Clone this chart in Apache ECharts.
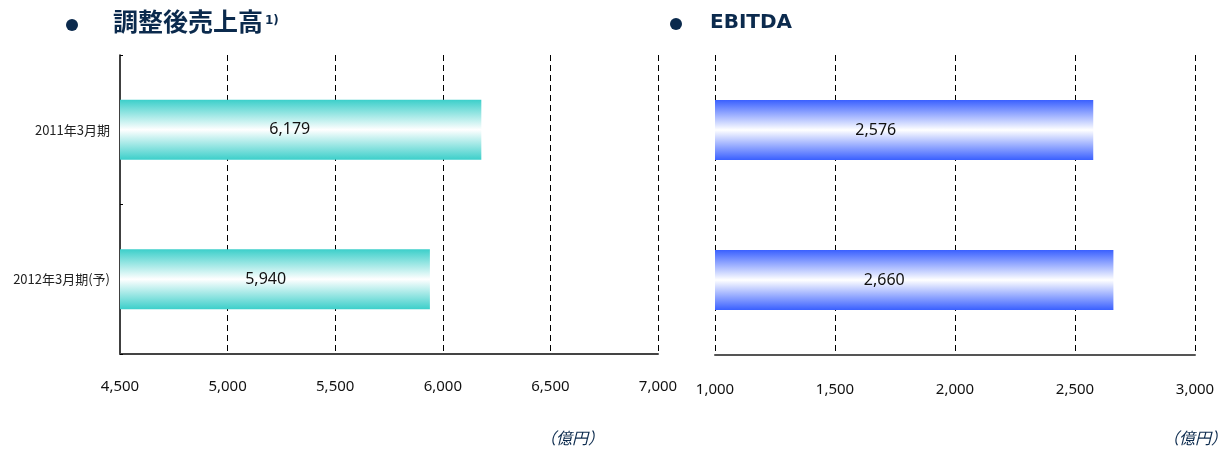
<!DOCTYPE html>
<html>
<head>
<meta charset="utf-8">
<script src="https://cdn.jsdelivr.net/npm/echarts@6/dist/echarts.min.js"></script>
<style>
  html, body { margin: 0; padding: 0; background: #fff; }
  #chart { width: 1228px; height: 453px; }
</style>
</head>
<body>
<div id="chart"></div>
<script>
// Fiscal periods shown on both panels (top to bottom)
const periods = ['2011年3月期', '2012年3月期(予)'];
// 調整後売上高 (億円)
const salesValues = [6179, 5940];
// EBITDA (億円)
const ebitdaValues = [2576, 2660];
// Value axis ranges and steps
const salesAxis = { min: 4500, max: 7000, interval: 500 };
const ebitdaAxis = { min: 1000, max: 3000, interval: 500 };

const NAVY = '#0b2a4d';
const numFont = "'Noto Sans', sans-serif";
const jpFont = "'Noto Sans CJK JP', sans-serif";

function barGradient(edge) {
  return new echarts.graphic.LinearGradient(0, 0, 0, 1, [
    { offset: 0, color: edge },
    { offset: 0.5, color: '#ffffff' },
    { offset: 1, color: edge }
  ]);
}

const fmt = v => v.toLocaleString('en-US');

function barLabel(xPos) {
  return {
    show: true, position: [xPos, '50%'], align: 'center', verticalAlign: 'middle',
    formatter: p => fmt(p.value), fontSize: 16, color: '#111', fontFamily: numFont
  };
}

const chart = echarts.init(document.getElementById('chart'), null, { renderer: 'canvas' });

chart.setOption({
  animation: false,
  grid: [
    { left: 120, top: 55, width: 538, height: 299 },
    { left: 715, top: 55, width: 480, height: 300 }
  ],
  xAxis: [
    {
      gridIndex: 0, type: 'value',
      min: salesAxis.min, max: salesAxis.max, interval: salesAxis.interval,
      axisLine: { show: true, lineStyle: { color: '#444', width: 2 } },
      axisTick: { show: false },
      axisLabel: { formatter: fmt, margin: 25, fontSize: 15, color: '#111', fontFamily: numFont },
      splitLine: { show: true, showMinLine: false, lineStyle: { type: [6, 4], color: '#000', width: 1 } }
    },
    {
      gridIndex: 1, type: 'value',
      min: ebitdaAxis.min, max: ebitdaAxis.max, interval: ebitdaAxis.interval,
      axisLine: { show: true, lineStyle: { color: '#555', width: 2 } },
      axisTick: { show: false },
      axisLabel: { formatter: fmt, margin: 27, fontSize: 15, color: '#111', fontFamily: numFont },
      splitLine: { show: true, lineStyle: { type: [6, 4], color: '#000', width: 1 } }
    }
  ],
  yAxis: [
    {
      gridIndex: 0, type: 'category', data: periods, inverse: true,
      axisLine: { show: true, lineStyle: { color: '#000', width: 1.5 } },
      axisTick: { show: true, inside: true, length: 3, lineStyle: { color: '#000' } },
      axisLabel: { margin: 10, fontSize: 13, color: '#222', fontFamily: jpFont }
    },
    {
      gridIndex: 1, type: 'category', data: periods, inverse: true,
      axisLine: { show: false }, axisTick: { show: false }, axisLabel: { show: false }
    }
  ],
  series: [
    {
      type: 'bar', xAxisIndex: 0, yAxisIndex: 0, data: salesValues, barWidth: 60,
      itemStyle: { color: barGradient('#3ccfca') },
      label: barLabel('47%')
    },
    {
      type: 'bar', xAxisIndex: 1, yAxisIndex: 1, data: ebitdaValues, barWidth: 60,
      itemStyle: { color: barGradient('#3a60ff') },
      label: barLabel('42.5%')
    }
  ],
  graphic: [
    { type: 'circle', shape: { cx: 72, cy: 25, r: 6 }, style: { fill: NAVY } },
    { type: 'text', left: 113, top: 9,
      style: { text: '調整後売上高', fill: NAVY, font: "bold 25px 'Noto Sans CJK JP', sans-serif" } },
    { type: 'text', left: 265, top: 15,
      style: { text: '1)', fill: NAVY, font: "bold 12px 'DejaVu Sans', sans-serif" } },
    { type: 'circle', shape: { cx: 676, cy: 24, r: 6 }, style: { fill: NAVY } },
    { type: 'text', left: 710, top: 13,
      style: { text: 'EBITDA', fill: NAVY, font: "bold 20px 'DejaVu Sans', sans-serif" } },
    { type: 'text', left: 540, top: 430,
      style: { text: '（億円）', fill: NAVY, font: "italic 16px 'Noto Sans CJK JP', sans-serif" } },
    { type: 'text', left: 1163, top: 430,
      style: { text: '（億円）', fill: NAVY, font: "italic 16px 'Noto Sans CJK JP', sans-serif" } }
  ]
});
</script>
</body>
</html>
